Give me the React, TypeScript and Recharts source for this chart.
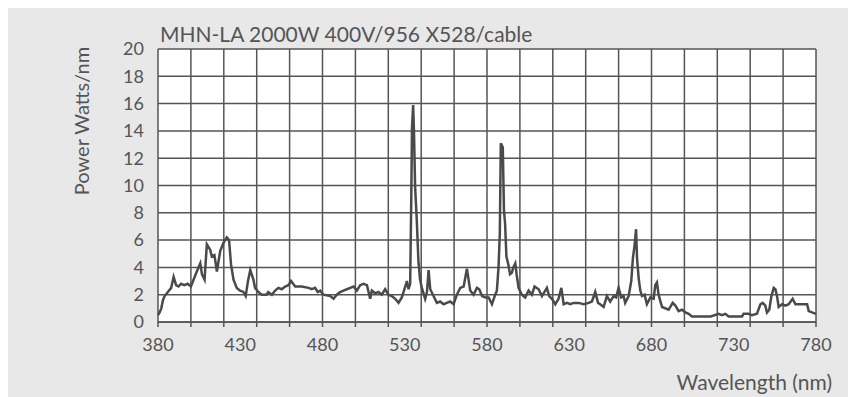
import React from 'react';
import { LineChart, Line, XAxis, YAxis, CartesianGrid, ReferenceLine } from 'recharts';

// spectrum, [wavelength nm, power W/nm]
const blueBand: [number, number][] = [
  [380, 0.5], [381, 0.7], [382, 1.0], [383, 1.6], [384, 1.9], [386, 2.2], [388, 2.5], [389.5, 3.3],
  [391, 2.7], [392.5, 2.6], [394, 2.8], [396, 2.7], [398, 2.8], [400, 2.6], [401.6, 3.1], [403.6, 3.7],
  [405.7, 4.3], [406.7, 3.5], [408.3, 3.1], [409.7, 5.7], [411.7, 5.3], [412.7, 4.8], [414.3, 4.9],
  [415.8, 3.7], [417.8, 5.2], [419.8, 5.8], [421.8, 6.2], [423.2, 6.0], [424.4, 4.2], [425.9, 3.1],
  [427.9, 2.5], [429.9, 2.3], [431.9, 2.2], [433.3, 1.9], [434.7, 3.0], [436.1, 3.8], [438, 3.1],
  [439, 2.5], [441, 2.2], [443, 2.0], [446, 2.0],
];

const cyanBand: [number, number][] = [
  [447, 2.2], [449.2, 2.0], [451.2, 2.3], [453.2, 2.5], [455.2, 2.4], [457.3, 2.6], [459.3, 2.7],
  [460.9, 3.0], [463.4, 2.6], [467.4, 2.6], [471.5, 2.5], [473.5, 2.4], [475.5, 2.5], [477.1, 2.2],
  [478.6, 2.3], [480.6, 2.0], [484.7, 1.9], [486.7, 1.7], [488.7, 2.0], [490.7, 2.2], [492.8, 2.3],
  [494.8, 2.4], [496.8, 2.5], [498.9, 2.6], [500.9, 2.3], [502.9, 2.7], [504.9, 2.8], [507, 2.7],
  [509, 1.7], [510, 2.3], [512, 2.1],
];

const greenBand: [number, number][] = [
  [514, 2.2], [516, 2.0], [518.1, 2.4], [520.1, 2.0], [522.1, 1.9], [524.2, 1.7], [526.2, 1.4],
  [528.2, 1.8], [530.3, 2.6], [531.3, 3.0], [532.3, 2.4], [533.3, 2.8], [534, 9.4], [534.4, 14.2],
  [535.1, 15.9], [535.6, 14.0], [536.3, 9.9], [537.3, 7.5], [538.3, 4.5], [539.3, 3.1], [540.4, 2.5],
  [542.4, 1.7], [543.5, 2.2], [544.5, 3.8], [545.5, 2.4], [547.5, 1.9], [549.5, 1.4], [551.5, 1.5],
  [553.6, 1.3], [555.6, 1.4], [557.6, 1.5], [559.7, 1.3], [561.7, 2.0], [563.7, 2.5], [565.8, 2.6],
  [567.8, 3.9], [569.8, 2.3], [571.8, 2.0], [573.9, 2.5], [575.3, 2.4], [577, 1.9], [579, 1.8],
  [581, 1.8], [583, 1.3], [585, 2.0], [586, 2.3],
];

const yellowBand: [number, number][] = [
  [587, 4.0], [587.8, 6.5], [588.4, 13.1], [589.6, 12.8], [590.3, 8.2], [591, 7.2], [591.8, 4.8],
  [593, 4.2], [594, 3.5], [595.1, 3.6], [596, 4.0], [597.2, 4.3], [598, 3.5], [599.2, 2.5],
  [601.2, 2.0], [603.2, 1.8], [605.3, 2.3], [607.3, 2.0], [608.9, 2.6], [611.4, 2.4], [613.4, 1.9],
  [615.4, 2.3], [616.4, 2.5], [617.8, 1.9], [619.5, 1.7], [621.5, 1.3], [623.5, 1.7], [625.2, 2.5],
  [626.6, 1.3], [628.6, 1.4], [630.6, 1.3], [632.7, 1.4], [635.7, 1.4], [638.7, 1.3], [641.8, 1.4],
  [643.8, 1.5], [645.8, 2.2],
];

const redBand: [number, number][] = [
  [647.5, 1.4], [648.8, 1.3], [650.9, 1.1], [652.9, 1.9], [654.9, 1.5], [657, 1.9], [658.5, 1.8],
  [660, 2.5], [661.6, 1.8], [663, 1.9], [664, 1.4], [666.1, 1.9], [667.7, 3.0], [668.7, 4.7],
  [669.7, 5.6], [670.6, 6.8], [671.2, 4.7], [672.2, 3.2], [673.2, 2.3], [674.2, 1.9], [675.8, 2.0],
  [677.2, 1.3], [679.3, 1.8], [681.3, 1.7], [682.3, 2.7], [683.3, 2.9], [684.3, 2.0], [686.4, 1.1],
  [690.4, 0.9], [692.9, 1.4], [694.5, 1.2], [696.5, 0.8], [698.5, 0.9], [700.6, 0.7], [702.6, 0.6],
  [704.6, 0.4], [716, 0.4],
];

const deepRedBand: [number, number][] = [
  [720.8, 0.6], [722.8, 0.5], [724.9, 0.6], [726.9, 0.4], [735, 0.4], [736, 0.6], [739, 0.6],
  [741.1, 0.5], [744.1, 0.6], [746.2, 1.3], [747.6, 1.4], [749.2, 1.2], [750.2, 0.7], [751.6, 0.9],
  [752.9, 1.9], [754.3, 2.5], [755.3, 2.4], [756.3, 1.9], [757.3, 1.1], [759.4, 1.3], [761.4, 1.2],
  [763.4, 1.3], [765.8, 1.7], [767.5, 1.3], [769.5, 1.3], [772.5, 1.3], [774.6, 1.3], [775.6, 0.8],
  [777.6, 0.7], [780, 0.6],
];

const gridTicks = [380, 400, 420, 440, 460, 480, 500, 520, 540, 560, 580, 600, 620, 640, 660, 680, 700, 720, 740, 760, 780];
const labelTicks = [380, 430, 480, 530, 580, 630, 680, 730, 780];
const powerTicks = [0, 2, 4, 6, 8, 10, 12, 14, 16, 18, 20];

const data = [...blueBand, ...cyanBand, ...greenBand, ...yellowBand, ...redBand, ...deepRedBand]
  .map(([nm, power]) => ({ nm, power }));

const ink = '#555';
const font = 'Lato, sans-serif';

const App: React.FC = () => {
  return (
    <div style={{ position: 'relative', width: 847, height: 389, marginLeft: -5, background: '#e8e8e8', fontFamily: font }}>
      <div style={{ position: 'absolute', left: 157, top: 15, fontSize: 21, lineHeight: 1, color: ink, whiteSpace: 'nowrap' }}>
        MHN-LA 2000W 400V/956 X528/cable
      </div>
      <div style={{ position: 'absolute', left: 78, top: 113, fontSize: 20, lineHeight: 1, color: ink, whiteSpace: 'nowrap', transform: 'translate(-50%, -50%) rotate(-90deg)' }}>
        Power Watts/nm
      </div>
      <div style={{ position: 'absolute', right: 18, top: 363, fontSize: 21, lineHeight: 1, color: ink, whiteSpace: 'nowrap' }}>
        Wavelength (nm)
      </div>
      <LineChart width={847} height={389} data={data} margin={{ top: 41, right: 34, bottom: 39, left: 0 }}>
        <CartesianGrid fill="#fff" horizontal={false} vertical={false} />
        <XAxis dataKey="nm" type="number" domain={[380, 780]} ticks={gridTicks} height={6}
          tickFormatter={() => ''} tickSize={5} stroke={ink} strokeWidth={1.5} />
        <XAxis xAxisId="lab" dataKey="nm" type="number" domain={[380, 780]} ticks={labelTicks} height={30}
          axisLine={false} tickLine={false} tickSize={0} tickMargin={10}
          tick={{ fill: ink, fontSize: 18, fontFamily: font }} />
        <YAxis type="number" domain={[0, 20]} ticks={powerTicks} width={155} axisLine={false} tickLine={false}
          tickMargin={8} tick={{ fill: ink, fontSize: 18, fontFamily: font }} />
        {gridTicks.map((t) => (
          <ReferenceLine key={`v${t}`} x={t} stroke={ink} strokeWidth={1.5} />
        ))}
        {powerTicks.map((t) => (
          <ReferenceLine key={`h${t}`} y={t} stroke={ink} strokeWidth={1.5} />
        ))}
        <Line type="linear" dataKey="power" stroke="#4a4a4a" strokeWidth={2.5} dot={false} isAnimationActive={false} />
      </LineChart>
    </div>
  );
};

export default App;
